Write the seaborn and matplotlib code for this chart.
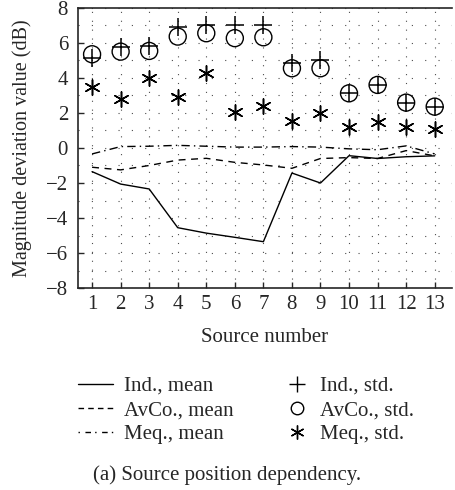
import numpy as np
import matplotlib
matplotlib.use("Agg")
import matplotlib.pyplot as plt
from matplotlib.lines import Line2D
import seaborn as sns

# Source numbers
source = np.arange(1, 14)

# mean curves (dB)
ind_mean = [-1.35, -2.06, -2.34, -4.55, -4.86, -5.1, -5.35, -1.43, -2.0, -0.44, -0.6, -0.5, -0.45]
avco_mean = [-1.1, -1.25, -1.0, -0.69, -0.59, -0.82, -0.97, -1.16, -0.6, -0.55, -0.6, -0.15, -0.45]
meq_mean = [-0.34, 0.08, 0.1, 0.15, 0.1, 0.05, 0.05, 0.08, 0.05, -0.05, -0.1, 0.12, -0.34]

# std markers (dB)
ind_std = [5.12, 5.79, 5.8, 6.9, 7.0, 7.02, 7.03, 4.84, 5.03, 3.12, 3.6, 2.59, 2.36]
avco_std = [5.35, 5.5, 5.54, 6.36, 6.55, 6.27, 6.32, 4.55, 4.55, 3.12, 3.6, 2.59, 2.36]
meq_std = [3.47, 2.8, 4.02, 2.93, 4.3, 2.04, 2.4, 1.56, 1.98, 1.18, 1.47, 1.18, 1.07]

sns.set_style("ticks")
plt.rcParams['font.family'] = ['Liberation Serif', 'DejaVu Serif']
plt.rcParams['font.size'] = 15

fig = plt.figure(figsize=(4.55, 4.9), dpi=100)
ax = fig.add_axes([0.171, 0.412, 0.822, 0.572])

asterisk = (6, 2, 0)

sns.lineplot(x=source, y=ind_mean, color='k', lw=1, linestyle='-', ax=ax)
sns.lineplot(x=source, y=avco_mean, color='k', lw=1, linestyle=(0, (5, 4)), ax=ax)
sns.lineplot(x=source, y=meq_mean, color='k', lw=1, linestyle=(0, (6, 3, 1, 3)), ax=ax)

sns.scatterplot(x=source, y=ind_std, marker='+', s=170, color='k', linewidth=1.1, ax=ax, zorder=3)
sns.scatterplot(x=source, y=avco_std, marker='o', s=150, facecolors='none', edgecolor='k',
                linewidth=1, ax=ax, zorder=3)
sns.scatterplot(x=source, y=meq_std, marker=asterisk, s=120, color='k', linewidth=1.1, ax=ax, zorder=3)

ax.set_xlim(0.5, 13.6)
ax.set_ylim(-8, 8)
ax.set_xticks(source)
ax.set_yticks(np.arange(-8, 9, 2))
ax.set_yticks(np.arange(-7, 8, 2), minor=True)
ax.grid(True, axis='x', which='major', color='0.3', linestyle=(0, (1, 7)), lw=0.8)
ax.grid(True, axis='y', which='both', color='0.3', linestyle=(0, (1, 11)), lw=0.8)
ax.tick_params(which='major', direction='in', length=4, width=1, labelsize=15)
ax.tick_params(axis='y', pad=7)
ax.tick_params(axis='x', pad=5)
ax.tick_params(which='minor', length=0)
ax.set_yticklabels([f"{v:d}".replace('-', '\u2212') for v in range(-8, 9, 2)])

for s in ['left', 'bottom', 'top']:
    ax.spines[s].set_linewidth(1.2)
ax.spines['right'].set_visible(False)

ax.set_xlabel('Source number', fontsize=15, labelpad=10)
ax.set_ylabel('Magnitude deviation value (dB)', fontsize=14.5, labelpad=10)

mean_handles = [
    Line2D([], [], color='k', lw=1, linestyle='-'),
    Line2D([], [], color='k', lw=1, linestyle=(0, (4, 3))),
    Line2D([], [], color='k', lw=1, linestyle=(0, (1, 4, 4, 3))),
]
std_handles = [
    Line2D([], [], color='k', lw=0, marker='+', markersize=11, markeredgewidth=1),
    Line2D([], [], color='k', lw=0, marker='o', markersize=9, markerfacecolor='none', markeredgewidth=1),
    Line2D([], [], color='k', lw=0, marker=asterisk, markersize=10, markeredgewidth=1),
]
mean_labels = ['Ind., mean', 'AvCo., mean', 'Meq., mean']
std_labels = ['Ind., std.', 'AvCo., std.', 'Meq., std.']

leg_kw = dict(loc='upper left', frameon=False, fontsize=15, handlelength=1.7,
              handletextpad=0.5, labelspacing=0.22, borderaxespad=0, borderpad=0)
fig.legend(mean_handles, mean_labels, bbox_to_anchor=(0.171, 0.232), **leg_kw)
fig.legend(std_handles, std_labels, bbox_to_anchor=(0.625, 0.232),
           **{**leg_kw, 'handlelength': 1.2})

fig.text(0.5, 0.031, '(a) Source position dependency.', ha='center', va='center', fontsize=15)

fig.savefig('out.png', dpi=100)
